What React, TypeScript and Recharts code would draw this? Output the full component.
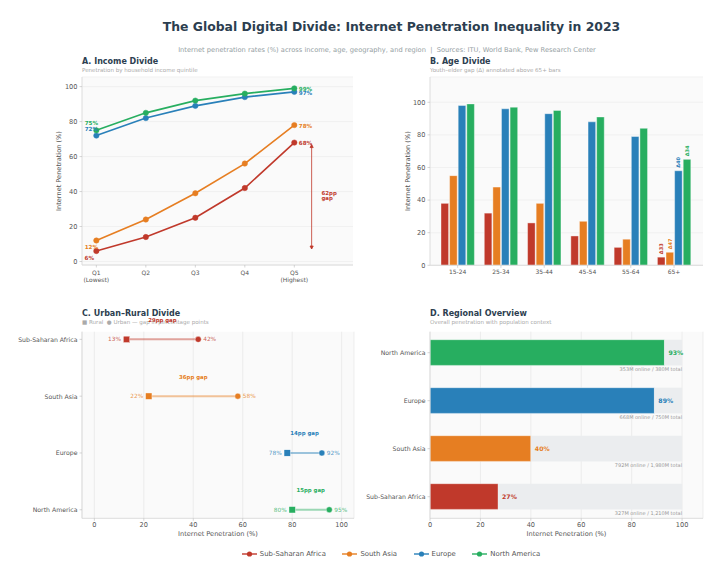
import {
  LineChart, Line, BarChart, Bar, ScatterChart, Scatter, XAxis, YAxis, CartesianGrid,
  LabelList, Cell, ReferenceLine, ReferenceDot
} from "recharts";

const FONT = "'DejaVu Sans', sans-serif";

const regions = ["Sub-Saharan Africa", "South Asia", "Europe", "North America"];
const regionColors = ["#c0392b", "#e67e22", "#2980b9", "#27ae60"];

// A. income
const quintiles = ["Q1|(Lowest)", "Q2", "Q3", "Q4", "Q5|(Highest)"];
const incomeSSA = [6, 14, 25, 42, 68];
const incomeSA = [12, 24, 39, 56, 78];
const incomeEU = [72, 82, 89, 94, 97];
const incomeNA = [75, 85, 92, 96, 99];
const incomeSeries = [incomeSSA, incomeSA, incomeEU, incomeNA];
const firstLabelOffset = [6.5, 6, -7, -7.5];

// B. age
const ageGroups = ["15-24", "25-34", "35-44", "45-54", "55-64", "65+"];
const ageSSA = [38, 32, 26, 18, 11, 5];
const ageSA = [55, 48, 38, 27, 16, 8];
const ageEU = [98, 96, 93, 88, 79, 58];
const ageNA = [99, 97, 95, 91, 84, 65];
const ageSeries = [ageSSA, ageSA, ageEU, ageNA];

// C. urban / rural
const rural = [13, 22, 78, 80];
const urban = [42, 58, 92, 95];

// D. overview
const overviewRegions = ["North America", "Europe", "South Asia", "Sub-Saharan Africa"];
const overviewValues = [93, 89, 40, 27];
const overviewColors = ["#27ae60", "#2980b9", "#e67e22", "#c0392b"];
const overviewContext = [
  "353M online / 380M total",
  "668M online / 750M total",
  "792M online / 1,980M total",
  "327M online / 1,210M total",
];

const incomeRows = quintiles.map((_, i) => ({
  q: i, s0: incomeSSA[i], s1: incomeSA[i], s2: incomeEU[i], s3: incomeNA[i],
}));
const ageRows = ageGroups.map((g, i) => ({
  group: g, s0: ageSSA[i], s1: ageSA[i], s2: ageEU[i], s3: ageNA[i],
}));
const overviewRows = overviewRegions.map((r, i) => ({
  i, name: r, online: overviewValues[i], rest: 100 - overviewValues[i], context: overviewContext[i],
}));

const tickStyle = { fill: "#555", fontSize: 6.6, fontFamily: FONT };
const axisLine = { stroke: "#dcdcdc", strokeWidth: 1 };
const tickLine = { stroke: "#bbb", strokeWidth: 0.6 };
const labelStyle = { fill: "#555", fontSize: 6.6, fontFamily: FONT };

function QuintileTick({ x, y, payload }: any) {
  const [a, b] = quintiles[payload.value].split("|");
  return (
    <text x={x} y={y} textAnchor="middle" fontFamily={FONT} fontSize={6} fill="#555">
      <tspan x={x} dy={5}>{a}</tspan>
      {b && <tspan x={x} dy={7}>{b}</tspan>}
    </text>
  );
}

// plain text tick, the default one wraps long names
function NameTick({ x, y, payload, names }: any) {
  return (
    <text x={x} y={y} textAnchor="end" dominantBaseline="central" fontFamily={FONT} fontSize={6.2} fill="#555">
      {names[payload.value]}
    </text>
  );
}

function incomeLabel(series: number) {
  return (props: any) => {
    const { x, y, value, index } = props;
    if (index !== 0 && index !== quintiles.length - 1) return null;
    const first = index === 0;
    return (
      <text
        x={first ? x - (series === 0 ? 7 : 5) : x + 4.5}
        y={first ? y + firstLabelOffset[series] : y + 0.7}
        textAnchor={first ? "middle" : "start"}
        dominantBaseline="central"
        fontFamily={FONT}
        fontSize={5.6}
        fontWeight="bold"
        fill={regionColors[series]}
      >
        {value}%
      </text>
    );
  };
}

function deltaLabel(series: number) {
  return (props: any) => {
    const { x, y, width, index } = props;
    if (index !== ageGroups.length - 1) return null;
    const delta = ageSeries[series][0] - ageSeries[series][index];
    const cx = x + width / 2;
    return (
      <text
        x={cx}
        y={y - 3}
        transform={`rotate(-90 ${cx} ${y - 3})`}
        dominantBaseline="central"
        fontFamily={FONT}
        fontSize={5}
        fontWeight="bold"
        fill={regionColors[series]}
      >
        Δ{delta}
      </text>
    );
  };
}

function DumbbellPoint({ cx, cy, payload, fill }: any) {
  const isRural = payload.kind === "rural";
  return (
    <g>
      {isRural
        ? <rect x={cx - 3.2} y={cy - 3.2} width={6.4} height={6.4} fill={fill} stroke="#fff" strokeWidth={0.4} />
        : <circle cx={cx} cy={cy} r={3} fill={fill} stroke="#fff" strokeWidth={0.4} />}
      <text
        x={isRural ? cx - 5.5 : cx + 5}
        y={cy}
        textAnchor={isRural ? "end" : "start"}
        dominantBaseline="central"
        fontFamily={FONT}
        fontSize={5.8}
        fill={fill}
        fillOpacity={0.8}
      >
        {payload.x}%
      </text>
    </g>
  );
}

function Title({ x, y, title, sub }: { x: number; y: number; title: string; sub: string }) {
  return (
    <>
      <div style={{ position: "absolute", left: x, top: y - 7, fontSize: 8, lineHeight: "14px", fontWeight: "bold", color: "#2c3e50", whiteSpace: "nowrap" }}>{title}</div>
      <div style={{ position: "absolute", left: x, top: y + 3, fontSize: 5.55, lineHeight: "10px", color: "#aaa", whiteSpace: "pre" }}>{sub}</div>
    </>
  );
}

function Panel({ left, top, children }: { left: number; top: number; children: any }) {
  return <div style={{ position: "absolute", left, top }}>{children}</div>;
}

export default function App() {
  return (
    <div style={{ position: "absolute", left: 0, top: 0, width: 720, height: 583, background: "#fff", fontFamily: FONT, overflow: "hidden" }}>
      <div style={{ position: "absolute", left: 0, width: 783, top: 18, textAlign: "center", fontSize: 12.4, lineHeight: "18px", fontWeight: "bold", color: "#2c3e50", whiteSpace: "nowrap" }}>
        The Global Digital Divide: Internet Penetration Inequality in 2023
      </div>
      <div style={{ position: "absolute", left: 0, width: 774, top: 43.5, textAlign: "center", fontSize: 6.7, lineHeight: "12px", color: "#95a0a3", whiteSpace: "pre" }}>
        Internet penetration rates (%) across income, age, geography, and region  |  Sources: ITU, World Bank, Pew Research Center
      </div>

      <Title x={82} y={61.5} title="A. Income Divide" sub="Penetration by household income quintile" />
      <Title x={430} y={61.5} title="B. Age Divide" sub="Youth–elder gap (Δ) annotated above 65+ bars" />
      <Title x={82} y={314} title="C. Urban–Rural Divide" sub="■ Rural  ● Urban — gap in percentage points" />
      <Title x={430} y={314} title="D. Regional Overview" sub="Overall penetration with population context" />

      <Panel left={0} top={60}>
        <LineChart width={360} height={235} data={incomeRows} margin={{ top: 17, right: 7, bottom: 0, left: 0 }}>
          <CartesianGrid vertical={false} stroke="#ececec" strokeWidth={0.7} fill="#fafafa" />
          <XAxis
            dataKey="q"
            type="number"
            domain={[-0.29, 5.186]}
            ticks={quintiles.map((_, i) => i)}
            tick={<QuintileTick />}
            height={30}
            axisLine={axisLine}
            tickLine={tickLine}
            tickSize={2.5}
            interval={0}
          />
          <YAxis
            type="number"
            domain={[-2, 105.5]}
            ticks={[0, 20, 40, 60, 80, 100]}
            width={82}
            tick={tickStyle}
            axisLine={axisLine}
            tickLine={tickLine}
            tickSize={2.5}
            tickMargin={2}
            label={{ value: "Internet Penetration (%)", angle: -90, position: "center", dx: 18, style: labelStyle }}
          />
          {incomeSeries.map((_, s) => (
            <Line
              key={s}
              dataKey={`s${s}`}
              stroke={regionColors[s]}
              strokeWidth={1.6}
              dot={{ r: 2.7, fill: regionColors[s], stroke: regionColors[s], strokeWidth: 0.5 }}
              isAnimationActive={false}
            >
              <LabelList dataKey={`s${s}`} content={incomeLabel(s)} />
            </Line>
          ))}
          <ReferenceLine
            ifOverflow="visible"
            segment={[{ x: 4.35, y: incomeSSA[0] }, { x: 4.35, y: incomeSSA[4] }]}
            shape={(p: any) => (
              <g stroke="#c0392b" fill="#c0392b" strokeWidth={0.8}>
                <line x1={p.x1} y1={p.y1 - 2} x2={p.x2} y2={p.y2 + 2} />
                <path d={`M${p.x1 - 1.6} ${p.y1 - 5} L${p.x1 + 1.6} ${p.y1 - 5} L${p.x1} ${p.y1 - 2} Z`} />
                <path d={`M${p.x2 - 1.6} ${p.y2 + 5} L${p.x2 + 1.6} ${p.y2 + 5} L${p.x2} ${p.y2 + 2} Z`} />
              </g>
            )}
          />
          <ReferenceDot
            x={4.55}
            y={(incomeSSA[0] + incomeSSA[4]) / 2}
            ifOverflow="visible"
            shape={(p: any) => (
              <text x={p.cx} y={p.cy} fontFamily={FONT} fontSize={5.4} fontWeight="bold" fill="#c0392b">
                <tspan x={p.cx} dy={-2}>{incomeSSA[4] - incomeSSA[0]}pp</tspan>
                <tspan x={p.cx} dy={5.6}>gap</tspan>
              </text>
            )}
          />
        </LineChart>
      </Panel>

      <Panel left={360} top={60}>
        <BarChart width={360} height={235} data={ageRows} barSize={7.6} barGap={1} margin={{ top: 17, right: 17, bottom: 0, left: 0 }}>
          <CartesianGrid vertical={false} stroke="#ececec" strokeWidth={0.7} fill="#fafafa" />
          <XAxis
            dataKey="group"
            height={29.7}
            padding={{ left: 6, right: 7.3 }}
            tick={{ ...tickStyle, fontSize: 6 }}
            axisLine={axisLine}
            tickLine={tickLine}
            tickSize={2.5}
            interval={0}
          />
          <YAxis
            type="number"
            domain={[0, 115.5]}
            ticks={[0, 20, 40, 60, 80, 100]}
            width={70}
            tick={tickStyle}
            axisLine={axisLine}
            tickLine={tickLine}
            tickSize={2.5}
            tickMargin={2}
            label={{ value: "Internet Penetration (%)", angle: -90, position: "center", dx: 13, style: labelStyle }}
          />
          {ageSeries.map((_, s) => (
            <Bar key={s} dataKey={`s${s}`} fill={regionColors[s]} stroke="#fff" strokeWidth={0.4} isAnimationActive={false}>
              <LabelList dataKey={`s${s}`} content={deltaLabel(s)} />
            </Bar>
          ))}
        </BarChart>
      </Panel>

      <Panel left={0} top={305}>
        <ScatterChart width={360} height={240} margin={{ top: 26.7, right: 6, bottom: 0, left: 0 }}>
          <CartesianGrid horizontal={false} stroke="#e6e6e6" strokeWidth={0.7} fill="#fafafa" />
          <XAxis
            dataKey="x"
            type="number"
            domain={[-5, 105]}
            ticks={[0, 20, 40, 60, 80, 100]}
            height={26.7}
            tick={tickStyle}
            axisLine={axisLine}
            tickLine={tickLine}
            tickSize={2.5}
            label={{ value: "Internet Penetration (%)", position: "insideBottom", offset: 9, style: labelStyle }}
          />
          <YAxis
            dataKey="y"
            type="number"
            reversed
            domain={[-0.135, 3.15]}
            ticks={regions.map((_, i) => i)}
            tick={<NameTick names={regions} />}
            width={82}
            axisLine={axisLine}
            tickLine={tickLine}
            tickSize={2.5}
            tickMargin={2}
            interval={0}
          />
          {regions.map((r, i) => (
            <Scatter
              key={r}
              name={r}
              data={[
                { x: rural[i], y: i, kind: "rural" },
                { x: urban[i], y: i, kind: "urban" },
              ]}
              fill={regionColors[i]}
              line={{ stroke: regionColors[i], strokeWidth: 2, strokeOpacity: 0.45 }}
              shape={<DumbbellPoint fill={regionColors[i]} />}
              isAnimationActive={false}
            />
          ))}
          {regions.map((r, i) => (
            <ReferenceDot
              key={r}
              x={(rural[i] + urban[i]) / 2}
              y={i - 0.345}
              ifOverflow="visible"
              shape={(p: any) => (
                <text x={p.cx} y={p.cy} textAnchor="middle" dominantBaseline="central" fontFamily={FONT} fontSize={5.4} fontWeight="bold" fill={regionColors[i]}>
                  {urban[i] - rural[i]}pp gap
                </text>
              )}
            />
          ))}
        </ScatterChart>
      </Panel>

      <Panel left={360} top={305}>
        <BarChart width={360} height={240} data={overviewRows} layout="vertical" barSize={25.7} margin={{ top: 26.7, right: 17, bottom: 0, left: 0 }}>
          <CartesianGrid horizontal={false} stroke="#e6e6e6" strokeWidth={0.7} fill="#fafafa" />
          <XAxis
            type="number"
            domain={[0, 108.3]}
            ticks={[0, 20, 40, 60, 80, 100]}
            height={26.7}
            tick={tickStyle}
            axisLine={axisLine}
            tickLine={tickLine}
            tickSize={2.5}
            label={{ value: "Internet Penetration (%)", position: "insideBottom", offset: 9, style: labelStyle }}
          />
          <YAxis
            dataKey="i"
            type="number"
            domain={[-0.4375, 3.45]}
            ticks={overviewRows.map(r => r.i)}
            tick={<NameTick names={overviewRegions} />}
            width={70}
            axisLine={axisLine}
            tickLine={tickLine}
            tickSize={2.5}
            tickMargin={2}
            interval={0}
          />
          <Bar dataKey="online" stackId="a" stroke="#fff" strokeWidth={0.4} isAnimationActive={false}>
            {overviewRows.map((r, i) => <Cell key={r.name} fill={overviewColors[i]} />)}
            <LabelList
              dataKey="online"
              content={(p: any) => (
                <text x={p.x + p.width + 4} y={p.y + p.height / 2} dominantBaseline="central" fontFamily={FONT} fontSize={6.2} fontWeight="bold" fill={overviewColors[p.index]}>
                  {p.value}%
                </text>
              )}
            />
          </Bar>
          <Bar dataKey="rest" stackId="a" fill="#ebedef" isAnimationActive={false}>
            <LabelList
              dataKey="context"
              content={(p: any) => (
                <text x={p.x + p.width} y={p.y + p.height + 3.5} textAnchor="end" dominantBaseline="central" fontFamily={FONT} fontSize={5} fill="#999">
                  {p.value}
                </text>
              )}
            />
          </Bar>
        </BarChart>
      </Panel>

      <div style={{ position: "absolute", left: 0, width: 782, top: 547.7, display: "flex", justifyContent: "center", gap: 16.5, fontSize: 6.9, lineHeight: "12px", color: "#555" }}>
        {regions.map((r, i) => (
          <span key={r} style={{ display: "flex", alignItems: "center", gap: 3 }}>
            <svg width={15} height={8}>
              <line x1={0} y1={4} x2={15} y2={4} stroke={regionColors[i]} strokeWidth={1.4} />
              <circle cx={7.5} cy={4} r={2.6} fill={regionColors[i]} />
            </svg>
            {r}
          </span>
        ))}
      </div>
    </div>
  );
}
